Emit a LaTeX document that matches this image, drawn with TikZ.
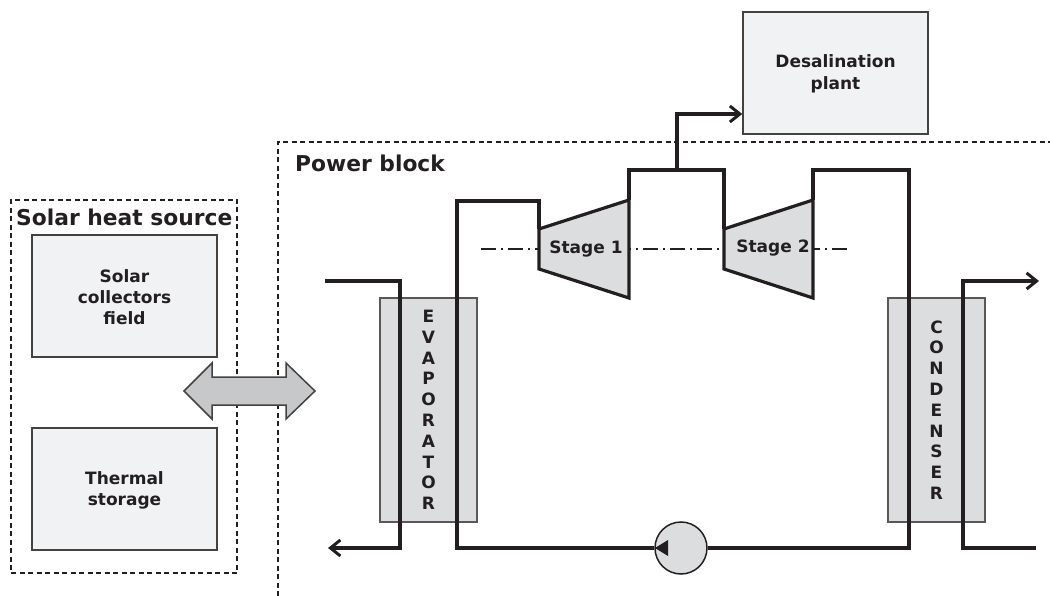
\documentclass[tikz,border=0pt]{standalone}
\usepackage{fontspec}
\setmainfont{DejaVu Sans}
\usetikzlibrary{arrows.meta}
\definecolor{ink}{HTML}{231F20}
\definecolor{boxfill}{HTML}{F1F2F4}
\definecolor{hxfill}{HTML}{DCDDDF}
\definecolor{dblfill}{HTML}{C7C8CA}
\begin{document}
\begin{tikzpicture}[x=1pt,y=-1pt,
  dashbox/.style={draw=ink,line width=1.1pt,dash pattern=on 5pt off 3.5pt},
  lightbox/.style={draw=ink!85,line width=1.5pt,fill=boxfill,inner sep=0pt,minimum width=185pt,minimum height=122pt},
  hx/.style={draw=ink!75,line width=1.5pt,fill=hxfill,inner sep=0pt,minimum width=97pt,minimum height=224pt,align=center,font=\bfseries\fontsize{17}{20.8}\selectfont,text=ink},
  turb/.style={draw=ink,line width=3.2pt,fill=hxfill,line join=miter},
  pipe/.style={draw=ink,line width=3.2pt,line join=miter},
  pipearrow/.style={pipe,-{Straight Barb[length=10pt,width=16pt,line width=3pt]}},
  lbl/.style={align=center,font=\bfseries\fontsize{17}{20.8}\selectfont,text=ink,inner sep=0pt},
  title/.style={font=\bfseries\fontsize{21.8}{24}\selectfont,text=ink,inner sep=0pt,anchor=base west}]
\useasboundingbox (0,0) rectangle (1050,596);
% dashed frames
\node[dashbox,minimum width=226pt,minimum height=373pt,inner sep=0pt] (solarframe) at (124,386.5) {};
\coordinate (pbA) at (278,596);
\coordinate (pbB) at (278,142);
\coordinate (pbC) at (1050,142);
\draw[dashbox] (pbA) -- (pbB) -- (pbC);
% boxes
\node[lightbox] (collectors) at (124.5,296) {};
\node[lbl] (collectorslabel) at (124.5,297) {Solar\\collectors\\field};
\node[lightbox] (storage) at (124.5,489) {};
\node[lbl] (storagelabel) at (124.5,490.5) {Thermal\\storage};
\node[lightbox] (plant) at (835.5,73) {};
\node[lbl,font=\bfseries\fontsize{17}{21.5}\selectfont] (plantlabel) at (835.5,74) {Desalination\\plant};
\node[title] (solartitle) at (16,226) {Solar heat source};
\node[title] (powertitle) at (295,172) {Power block};
% double arrow
\draw[draw=ink!85,line width=1.5pt,fill=dblfill,line join=miter]
  (184,391) -- (212,363) -- (212,377) -- (286,377) -- (286,363) -- (315,391)
  -- (286,419) -- (286,405) -- (212,405) -- (212,419) -- cycle;
% heat exchangers
\node[hx] (evap) at (428.5,410) {E\\V\\A\\P\\O\\R\\A\\T\\O\\R};
\node[hx] (cond) at (936.5,410) {C\\O\\N\\D\\E\\N\\S\\E\\R};
% shaft
\coordinate (shaftA) at (481,249);
\coordinate (shaftB) at (850,249);
\draw[ink,line width=1.3pt,dash pattern=on 15pt off 5pt on 2pt off 5pt] (shaftA) -- (shaftB);
% turbines
\draw[turb] (539,229) coordinate (t1in) -- (629,200) coordinate (t1out) -- (629,298) -- (539,269) -- cycle;
\node[lbl] (stage1) at (586,249) {Stage 1};
\draw[turb] (724,229) coordinate (t2in) -- (813,200) coordinate (t2out) -- (813,298) -- (724,269) -- cycle;
\node[lbl] (stage2) at (773,248) {Stage 2};
% pump
\node[circle,draw=ink,line width=1.5pt,fill=hxfill,minimum size=52pt,inner sep=0pt] (pump) at (681,548) {};
% pipes
\coordinate (p1) at (457,548);
\coordinate (p2) at (457,201);
\coordinate (p3) at (539,201);
\draw[pipe] (pump.west) -- (p1) -- (p2) -- (p3) -- (t1in);
\coordinate (p4) at (629,170);
\coordinate (p5) at (724,170);
\draw[pipe] (t1out) -- (p4) -- (p5) -- (t2in);
\coordinate (p6) at (677,170);
\coordinate (p7) at (677,114);
\draw[pipearrow] (p6) -- (p7) -- (plant.west |- p7);
\coordinate (p8) at (813,170);
\coordinate (p9) at (909,170);
\coordinate (p10) at (909,548);
\draw[pipe] (t2out) -- (p8) -- (p9) -- (p10) -- (pump.east);
\coordinate (a1) at (325,281);
\coordinate (a2) at (400,281);
\coordinate (a3) at (400,548);
\coordinate (a4) at (328,548);
\draw[pipearrow] (a1) -- (a2) -- (a3) -- (a4);
\coordinate (b1) at (1036,548);
\coordinate (b2) at (963,548);
\coordinate (b3) at (963,281);
\coordinate (b4) at (1039,281);
\draw[pipearrow] (b1) -- (b2) -- (b3) -- (b4);
% pump triangle
\fill[ink] (655,548) -- (668,540) -- (668,556) -- cycle;
\end{tikzpicture}
\end{document}
